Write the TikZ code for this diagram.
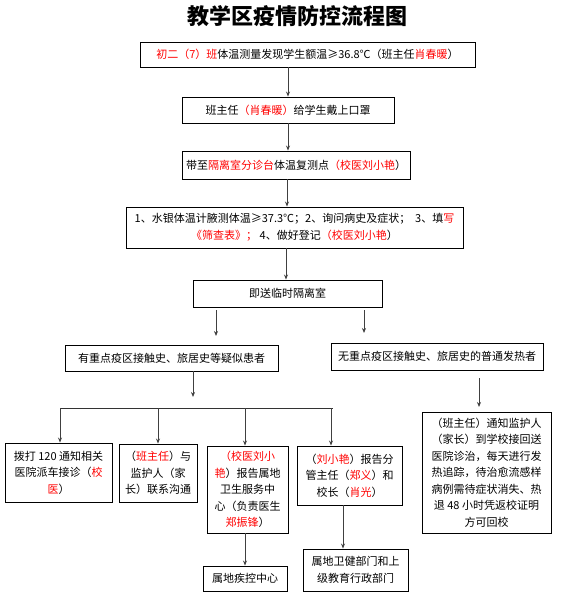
\documentclass[tikz,border=0pt]{standalone}
\usepackage{fontspec}
\setmainfont{Noto Sans CJK SC}
\usetikzlibrary{arrows.meta}
\definecolor{rd}{RGB}{255,0,0}
\newcommand{\redt}[1]{\textcolor{rd}{#1}}
\begin{document}
\begin{tikzpicture}[x=1pt,y=-1pt,
  box/.style={draw, line width=0.9pt, inner sep=0pt, align=center, font=\fontsize{11}{16.5}\selectfont},
  arr/.style={-{Stealth[length=5pt,width=4pt]}, line width=0.8pt, draw=black!75},
  ln/.style={line width=0.8pt, draw=black!80}]
\useasboundingbox (0,0) rectangle (585,612);
\node[font=\fontsize{22}{24}\selectfont\bfseries] (title) at (297,16) {教学区疫情防控流程图};

\node[box, minimum width=335pt, minimum height=25pt] (b1) at (307.5,54.5) {\redt{初二（7）班}体温测量发现学生额温≥36.8℃（班主任\redt{肖春暖}）};
\node[box, minimum width=212pt, minimum height=26pt] (b2) at (288,110) {班主任\redt{（肖春暖）}给学生戴上口罩};
\node[box, minimum width=228pt, minimum height=28pt] (b3) at (296,165) {带至\redt{隔离室分诊台}体温复测点\redt{（校医刘小艳}）};
\node[box, minimum width=337pt, minimum height=41pt] (b4) at (294.5,227.5) {1、水银体温计腋测体温≥37.3℃；2、询问病史及症状；\ \ 3、填\redt{写}\\\redt{《筛查表》；}\ 4、做好登记\redt{（校医刘小艳}）};
\node[box, minimum width=189pt, minimum height=27pt] (b5) at (287.5,293.5) {即送临时隔离室};
\node[box, minimum width=213pt, minimum height=26pt] (b6) at (171.5,358) {有重点疫区接触史、旅居史等疑似患者};
\node[box, minimum width=212pt, minimum height=27pt] (b7) at (437,356.5) {无重点疫区接触史、旅居史的普通发热者};

\node[box, minimum width=107pt, minimum height=59pt] (ba) at (58.5,472.5) {拨打 120 通知相关\\医院派车接诊（\redt{校}\\\redt{医}）};
\node[box, minimum width=78pt, minimum height=58pt] (bb) at (158,473) {（\redt{班主任}）与\\监护人（家\\长）联系沟通};
\node[box, minimum width=81pt, minimum height=87pt] (bc) at (247.5,489.5) {\redt{（校医刘小}\\\redt{艳}）报告属地\\卫生服务中\\心（负责医生\\\redt{郑振锋}）};
\node[box, minimum width=105pt, minimum height=59pt] (bd) at (349.5,475.5) {（\redt{刘小艳}）报告分\\管主任（\redt{郑义}）和\\校长（\redt{肖光}）};
\node[box, minimum width=84pt, minimum height=25pt] (be) at (245,578.5) {属地疾控中心};
\node[box, minimum width=105pt, minimum height=42pt] (bf) at (355.5,570) {属地卫健部门和上\\级教育行政部门};
\node[box, minimum width=129pt, minimum height=121pt] (br) at (486.5,472.5) {（班主任）通知监护人\\（家长）到学校接回送\\医院诊治，每天进行发\\热追踪，待治愈流感样\\病例需待症状消失、热\\退 48 小时凭返校证明\\方可回校};

% connectors
\draw[arr] (b1.south -| b2.north) -- (b2.north);
\draw[arr] (b2.south) -- (b3.north -| b2.south);
\draw[arr] (b3.south -| 287,0) -- (b4.north -| 287,0);
\draw[arr] (b4.south -| 286,0) -- (b5.north -| 286,0);

\coordinate (l1s) at (216,310); \coordinate (l1e) at (216,336);
\coordinate (r1s) at (364,310); \coordinate (r1e) at (364,333);
\draw[arr] (l1s) -- (l1e);
\draw[arr] (r1s) -- (r1e);

\coordinate (b6e) at (193,397);
\draw[arr] (b6.south -| b6e) -- (b6e);
\coordinate (hl) at (60,408); \coordinate (hr) at (333,408);
\draw[ln] (hl) -- (hr);
\draw[arr] (hl) -- (ba.north -| hl);
\draw[arr] (158,408) -- (bb.north);
\draw[arr] (245,408) -- (bc.north -| 245,0);
\draw[arr] (331,408) -- (bd.north -| 331,0);

\coordinate (rs) at (479,378); \coordinate (re) at (479,407);
\draw[arr] (rs) -- (re);

\draw[arr] (bc.south -| be.north) -- (be.north);
\draw[arr] (bd.south -| 343,0) -- (bf.north -| 343,0);
\end{tikzpicture}
\end{document}
